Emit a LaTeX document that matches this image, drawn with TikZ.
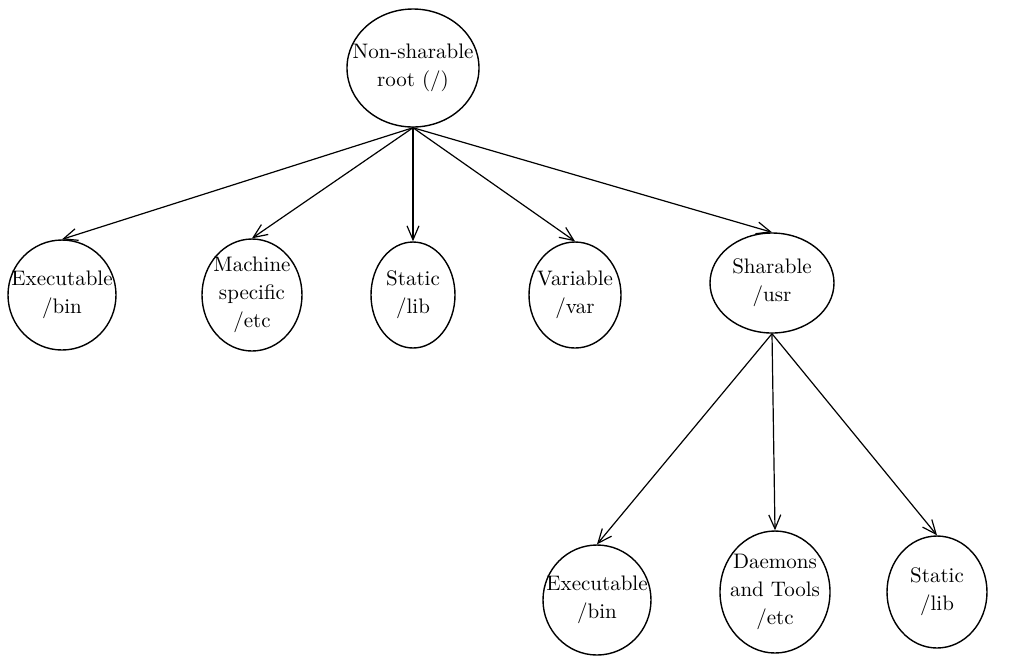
\documentclass[tikz,border=0pt]{standalone}
\usetikzlibrary{shapes.geometric,arrows.meta}
\begin{document}
\begin{tikzpicture}[x=0.5pt,y=-0.5pt,
  el/.style={draw, ellipse, line width=0.7pt, inner sep=0pt},
  lbl/.style={align=center, inner sep=0pt, font=\fontsize{10.5}{14}\selectfont},
  arr/.style={-{Straight Barb[length=7pt,width=6pt]}, line width=0.6pt}]
\useasboundingbox (0,0) rectangle (1012,661);
\node[el, minimum width=66pt, minimum height=59pt, label={[lbl]center:{Non-sharable\\root (/)}}] (root) at (413,68) {};
\node[el, minimum width=54pt, minimum height=55pt, label={[lbl]center:{Executable\\/bin}}] (exe1) at (62,295) {};
\node[el, minimum width=50pt, minimum height=56pt, label={[lbl]center:{Machine\\specific\\/etc}}] (mach) at (252,295) {};
\node[el, minimum width=42pt, minimum height=53pt, label={[lbl]center:{Static\\/lib}}] (lib1) at (413,295) {};
\node[el, minimum width=46pt, minimum height=53pt, label={[lbl]center:{Variable\\/var}}] (var) at (575,295) {};
\node[el, minimum width=62pt, minimum height=50pt, label={[lbl]center:{Sharable\\/usr}}] (usr) at (772,283) {};
\node[el, minimum width=54pt, minimum height=55pt, label={[lbl]center:{Executable\\/bin}}] (exe2) at (597,600) {};
\node[el, minimum width=55pt, minimum height=61pt, label={[lbl]center:{Daemons\\and Tools\\/etc}}] (dae) at (775,592) {};
\node[el, minimum width=50pt, minimum height=56pt, label={[lbl]center:{Static\\/lib}}] (lib2) at (937,592) {};
\foreach \c in {exe1,mach,lib1,var,usr} \draw[arr] (root.south) -- (\c.north);
\foreach \c in {exe2,dae,lib2} \draw[arr] (usr.south) -- (\c.north);
\end{tikzpicture}
\end{document}
